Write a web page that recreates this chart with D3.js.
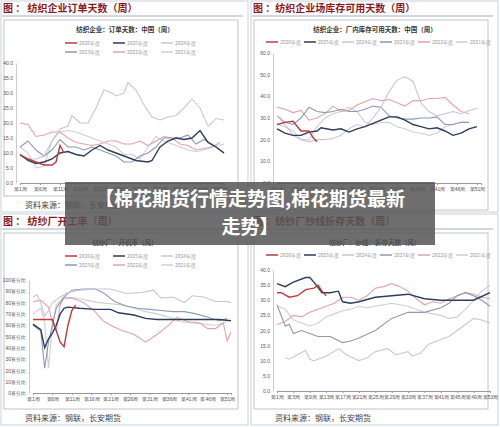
<!DOCTYPE html>
<html><head><meta charset="utf-8">
<script src="https://cdn.jsdelivr.net/npm/d3@7"></script>
<style>body{margin:0;background:#fff}svg{display:block;font-family:"Noto Sans CJK SC","Noto Sans",sans-serif}</style>
</head><body><svg id="c" width="500" height="427"></svg>
<script>
const years=["2026年度","2025年度","2024年度","2023年度","2022年度","2021年度"];
const colors=["#c0393b","#2c3d5e","#cbc3dc","#8e9ab0","#e2a3ad","#cfcfcf"];
// Panel 1: 纺织企业订单天数
const ord2026=[[1,9.5],[3,8],[5,7],[7,6],[9,6],[10,7],[11,12.5],[12,10]];
const ord2025=[[1,9.5],[3,7.5],[5,6.5],[7,7],[9,8],[11,10],[13,10.5],[15,9.5],[17,9],[19,11],[21,12.5],[23,11],[25,10],[27,9],[30,7.5],[33,7],[34,7.5],[36,12],[38,14],[40,15],[42,14.5],[44,15],[46,17.5],[48,13.5],[50,12],[52,10]];
const ord2024=[[1,9],[3,8],[5,8],[7,9],[9,14],[11,18],[13,19],[14,22.5],[16,20],[18,20],[20,25],[22,31],[24,30],[25,29],[27,30],[28,33.5],[30,31],[32,26],[34,22],[36,21],[38,22],[40,22.5],[42,25],[44,28],[46,25],[48,19],[49,20],[50,21.5],[52,21]];
const ord2023=[[1,12],[3,14],[5,11],[7,9],[9,11],[11,14.5],[13,12],[15,12],[17,11],[19,12],[21,11],[23,10],[25,9],[27,7],[29,7],[31,9],[33,10],[35,12],[37,15],[39,15],[41,15],[43,16],[45,13],[47,14.5],[49,13],[52,10]];
const ord2022=[[1,20],[3,19.5],[5,15.5],[7,16],[9,17],[11,17],[13,15],[15,13.5],[17,13],[19,12.5],[21,13],[23,14],[25,14],[27,13],[29,13],[31,14],[33,12.5],[35,14],[37,15.5],[39,15],[41,13],[43,12.5],[45,11],[47,11.5],[49,12],[51,13.5]];
const ord2021=[[1,12],[3,10],[5,5],[7,5.5],[9,14],[11,17],[13,17.5],[15,17],[17,16],[19,15],[21,14],[23,13],[25,12],[27,9.5],[29,9.5],[31,8],[33,12],[35,15.5],[37,14],[39,13],[41,12],[43,11],[45,10.5],[47,11],[49,12],[52,13]];
// Panel 2: 纺织企业厂内库存可用天数
const inv2026=[[1,27],[3,28],[5,28.5],[7,24],[9,24],[10,21],[11,19]];
const inv2025=[[1,25],[3,23],[5,22],[7,22],[9,23.5],[11,24],[12,25.5],[15,24.5],[17,25],[19,23.5],[21,25],[23,26],[25,27.5],[27,29],[29,30.5],[31,30.5],[33,29],[35,27],[37,26],[39,25],[41,25.5],[43,24],[45,22],[47,23],[49,25],[51,26]];
const inv2024=[[1,31],[3,27],[5,22],[7,20],[9,19],[11,20],[13,20],[15,20.5],[17,22],[19,25],[21,27],[23,26],[25,30],[27,35],[29,42],[31,47.5],[33,49],[35,47],[37,37],[39,33],[41,31],[43,32],[45,33],[47,32],[49,33.5],[51,34.5]];
const inv2023=[[1,31],[3,28],[5,27],[7,30],[9,35],[11,33],[13,32.5],[15,33],[17,34],[19,33],[21,33],[23,34],[25,35.5],[27,35],[29,31],[31,30],[33,29.5],[35,29.5],[37,30],[39,30],[41,30.5],[43,27],[45,27],[47,28],[49,28]];
const inv2022=[[1,35],[3,34],[5,32.5],[7,33.5],[9,29],[11,30],[13,32],[15,35.5],[17,33],[19,33.5],[21,36],[23,37.5],[25,39],[27,38],[29,38.5],[31,37],[33,35.5],[35,38],[37,38],[39,39],[41,39],[43,39.5],[45,36],[47,33],[49,32]];
const inv2021=[[1,27],[3,26],[5,24],[7,20],[9,20],[11,26],[13,30],[15,32],[17,33],[19,35],[21,33],[23,28],[25,27],[27,28],[29,28],[31,26],[33,25],[35,23.5],[37,23],[39,22],[41,23],[43,26],[45,27],[47,28],[49,28]];
// Panel 3: 纺纱厂开机率
const run2026=[[1,65],[4,65],[6,65],[7,55],[8,45],[9,41],[10,60],[11,73],[12,78]];
const run2025=[[1,61],[3,56],[4,40],[5,48],[6,53],[7,60],[8,70],[9,75],[10,76],[13,75],[17,74],[21,74],[23,71],[27,69],[30,66],[33,65],[37,65],[41,65],[45,65],[49,65],[52,64]];
const run2024=[[1,85],[2,87],[3,80],[4,68],[5,73],[6,80],[8,85],[10,89],[13,91],[17,92],[21,92],[25,88],[29,89],[32,91],[34,84],[37,85],[40,80],[42,86],[45,85],[48,81],[51,81],[52,80]];
const run2023=[[1,60],[3,55],[4,22],[5,45],[6,60],[7,75],[9,85],[11,91],[14,92],[17,92],[19,89],[22,81],[25,77],[28,75],[31,74],[34,73],[37,72],[40,72],[43,70],[46,67],[49,64],[51,66]];
const run2022=[[1,81],[3,82],[5,76],[6,62],[7,55],[8,78],[9,84],[11,84],[14,80],[17,72],[19,64],[21,60],[24,55],[27,52],[30,45],[33,52],[36,60],[38,67],[41,63],[44,62],[46,57],[48,57],[50,62],[51,46],[52,54]];
const run2021=[[1,70],[3,75],[4,62],[5,22],[6,60],[7,78],[9,85],[12,84],[15,82],[18,80],[21,79],[24,78],[27,75],[30,72],[33,70],[36,67],[39,63],[42,62],[45,61],[48,60],[51,63]];
// Panel 4: 纺纱厂纱线折存天数
const yarn2026=[[1,32.5],[2,32.5],[4,31],[6,31.5],[8,33.5],[10,34],[11,35],[12,33],[13,31.5]];
const yarn2025=[[1,35.5],[3,34.5],[5,36],[8,37.5],[9,37.5],[10,36],[12,32.5],[14,32.5],[16,33],[17,29.5],[19,29],[21,29.5],[25,31],[29,31.5],[33,32],[37,30.5],[41,30],[45,30],[49,30],[53,32.5]];
const yarn2024=[[3,11],[4,10.5],[6,12],[8,13.5],[9,10.5],[10,10],[13,11.5],[16,14],[18,12],[21,10],[23,11],[25,13],[28,14],[30,12],[33,13],[34,11.5],[36,12.5],[38,15.5],[41,17],[43,18],[45,20],[47,22],[49,24],[51,23.5],[53,22.5]];
const yarn2023=[[1,28.5],[3,21.5],[4,22],[5,19],[7,20],[9,19],[11,18],[14,18],[17,16],[19,16.5],[21,17.5],[25,20],[29,24],[33,26],[37,26],[41,27.5],[43,29],[45,31.5],[47,32.5],[49,31.5],[51,30],[53,28]];
const yarn2022=[[1,22],[3,23],[5,25],[7,24.5],[9,26],[11,27],[13,28],[15,29],[17,31],[19,31],[21,30],[23,31.5],[25,34],[27,34.5],[29,35.5],[31,34.5],[33,33],[35,30.5],[37,28.5],[39,29.5],[41,29],[43,30.5],[45,31.5],[47,32.5],[49,32],[51,31],[53,30.5]];
const yarn2021=[[1,28],[3,27],[5,23.5],[7,22.5],[9,21.5],[11,22.5],[13,24.5],[15,25.5],[17,26.5],[19,27],[21,28],[23,27.5],[25,28],[27,28.5],[29,29],[31,28.5],[33,28],[35,27],[37,26],[39,25.5],[41,25],[43,24],[45,24.5],[47,27],[49,30],[51,33],[53,35]];

const xTicks1=[1,6,11,16,21,26,31,36,41,46,51];
const xTicks4=[1,5,9,13,17,21,25,29,33,37,41,45,49,53];

const panels=[
 {ox:0,oy:0,head:"图 ： 纺织企业订单天数（周）",title:"纺织企业：订单天数：中国（周）",series:[ord2026,ord2025,ord2024,ord2023,ord2022,ord2021],
  ymax:40,ystep:5,fmt:d=>d.toFixed(1),x0:20,x1:224,wMax:52,y0:183,y1:63,xt:xTicks1,leg2:true,src:true},
 {ox:250,oy:0,head:"图 ：纺织企业场库存可用天数（周）",title:"纺织企业：厂内库存可用天数：中国（周）",series:[inv2026,inv2025,inv2024,inv2023,inv2022,inv2021],
  ymax:60,ystep:10,fmt:d=>d.toFixed(1),x0:277,x1:481,wMax:52,y0:183,y1:53,xt:xTicks1,leg2:false,src:false},
 {ox:0,oy:213,head:"图 ： 纺纱厂开工率（周）",title:"纺纱厂：开机率（周）",series:[run2026,run2025,run2024,run2023,run2022,run2021],
  ymax:100,ystep:10,fmt:d=>d+"百分比",x0:33,x1:231,wMax:52,y0:393,y1:280,xt:xTicks1,leg2:true,src:true},
 {ox:250,oy:213,head:"图 ：纺纱厂纱线折存天数（周）",title:"纺纱厂：纱线：折存天数（周）",series:[yarn2026,yarn2025,yarn2024,yarn2023,yarn2022,yarn2021],
  ymax:40,ystep:5,fmt:d=>d.toFixed(1),x0:277,x1:490,wMax:53,y0:391,y1:270,xt:xTicks4,leg2:false,src:true}
];
const svg=d3.select("#c");
panels.forEach(p=>{
  const g=svg.append("g");
  g.append("rect").attr("x",p.ox+1).attr("y",p.oy+1).attr("width",247).attr("height",211).attr("fill","#fff").attr("stroke","#c9d3dd");
  g.append("text").attr("x",p.ox+3).attr("y",p.oy+12).attr("fill","#8b1a1a").attr("font-size",10).attr("font-weight","bold").text(p.head);
  g.append("line").attr("x1",p.ox+2).attr("x2",p.ox+243).attr("y1",p.oy+16).attr("y2",p.oy+16).attr("stroke","#9fb2c4");
  g.append("rect").attr("x",p.ox+4).attr("y",p.oy+20).attr("width",234).attr("height",p.src?176:190).attr("fill","#fff").attr("stroke","#aaa").attr("stroke-width",0.7);
  g.append("text").attr("x",p.ox+125).attr("y",p.oy+32).attr("text-anchor","middle").attr("font-size",6.5).attr("font-weight","bold").attr("fill","#333").text(p.title);
  // legend
  years.forEach((yr,i)=>{
    let lx,ly;
    if(p.leg2){lx=p.ox+65+(i%3)*48;ly=p.oy+43+Math.floor(i/3)*9;}
    else{lx=p.ox+16+i*38;ly=p.oy+42;}
    g.append("line").attr("x1",lx).attr("x2",lx+12).attr("y1",ly).attr("y2",ly).attr("stroke",colors[i]).attr("stroke-width",1.5);
    g.append("text").attr("x",lx+14).attr("y",ly+2).attr("font-size",5).attr("fill","#999").text(yr);
  });
  const x=d3.scaleLinear().domain([1,p.wMax]).range([p.x0,p.x1]);
  const y=d3.scaleLinear().domain([0,p.ymax]).range([p.y0,p.y1]);
  const ya=g.append("g").attr("transform",`translate(${p.x0-4},0)`).call(d3.axisLeft(y).tickValues(d3.range(0,p.ymax+0.01,p.ystep)).tickFormat(p.fmt).tickSize(0).tickPadding(3));
  ya.selectAll("text").attr("font-size",5).attr("fill","#555");
  ya.select(".domain").attr("stroke","#ccc");
  const xa=g.append("g").attr("transform",`translate(0,${p.y0})`).call(d3.axisBottom(x).tickValues(p.xt).tickFormat(d=>"第"+d+"周").tickSize(2).tickPadding(2));
  xa.selectAll("text").attr("font-size",5).attr("fill","#555");
  xa.selectAll("line,.domain").attr("stroke","#999");
  const line=d3.line().x(d=>x(d[0])).y(d=>y(d[1]));
  [5,4,3,2,1,0].forEach(i=>{
    g.append("path").datum(p.series[i]).attr("d",line).attr("fill","none").attr("stroke",colors[i]).attr("stroke-width",i<2?1.4:1.1);
  });
  if(p.src) g.append("text").attr("x",p.ox+25).attr("y",p.oy+208).attr("font-size",8).attr("fill","#444").text("资料来源：钢联，长安期货");
});
// overlay
svg.append("rect").attr("x",65).attr("y",182).attr("width",370).attr("height",63).attr("fill","#555").attr("opacity",0.85);
svg.append("text").attr("x",250).attr("y",206).attr("text-anchor","middle").attr("font-size",19).attr("font-weight","bold").attr("fill","#fff").text("【棉花期货行情走势图,棉花期货最新");
svg.append("text").attr("x",250).attr("y",234).attr("text-anchor","middle").attr("font-size",19).attr("font-weight","bold").attr("fill","#fff").text("走势】");
</script></body></html>
